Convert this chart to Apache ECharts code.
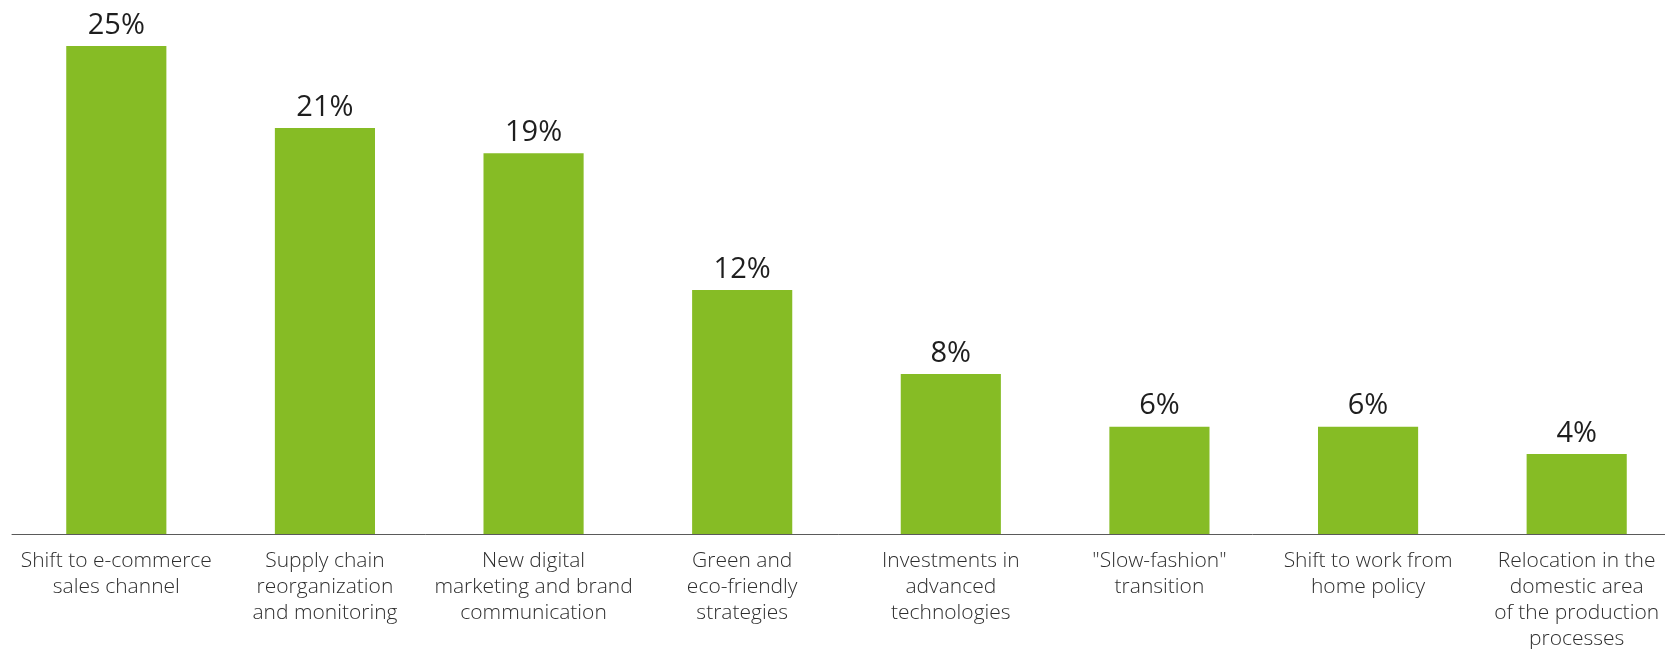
<!DOCTYPE html>
<html>
<head>
<meta charset="utf-8">
<script src="https://cdn.jsdelivr.net/npm/echarts@6/dist/echarts.min.js"></script>
<style>
html,body{margin:0;padding:0;background:#fff;}
#chart{width:1665px;height:649px;}
</style>
</head>
<body>
<div id="chart"></div>
<script>
const categories = [
  "Shift to e-commerce\nsales channel",
  "Supply chain\nreorganization\nand monitoring",
  "New digital\nmarketing and brand\ncommunication",
  "Green and\neco-friendly\nstrategies",
  "Investments in\nadvanced\ntechnologies",
  "\"Slow-fashion\"\ntransition",
  "Shift to work from\nhome policy",
  "Relocation in the\ndomestic area\nof the production\nprocesses"
];
const values = [25, 20.8, 19.5, 12.5, 8.2, 5.5, 5.5, 4.1];
const valueLabels = ["25%", "21%", "19%", "12%", "8%", "6%", "6%", "4%"];

const chart = echarts.init(document.getElementById('chart'));
chart.setOption({
  animation: false,
  backgroundColor: '#ffffff',
  grid: { left: 12, top: 46, width: 1669, bottom: 115, containLabel: false, outerBoundsMode: 'none' },
  xAxis: {
    type: 'category',
    data: categories,
    boundaryGap: true,
    axisLine: { show: true, lineStyle: { color: '#5a5a5a', width: 1 } },
    axisTick: { show: false },
    axisLabel: {
      interval: 0,
      margin: 14,
      fontFamily: 'Open Sans',
      fontWeight: 300,
      fontSize: 21,
      lineHeight: 26,
      color: '#2e2e2e',
      align: 'center'
    }
  },
  yAxis: {
    type: 'value',
    min: 0,
    max: 25,
    show: false,
    splitLine: { show: false }
  },
  series: [{
    type: 'bar',
    data: values,
    barWidth: '48%',
    itemStyle: { color: '#86BC25' },
    label: {
      show: true,
      position: 'top',
      distance: 6,
      fontFamily: 'Open Sans',
      fontSize: 29,
      color: '#1e1e1e',
      formatter: p => valueLabels[p.dataIndex]
    }
  }]
});
</script>
</body>
</html>
